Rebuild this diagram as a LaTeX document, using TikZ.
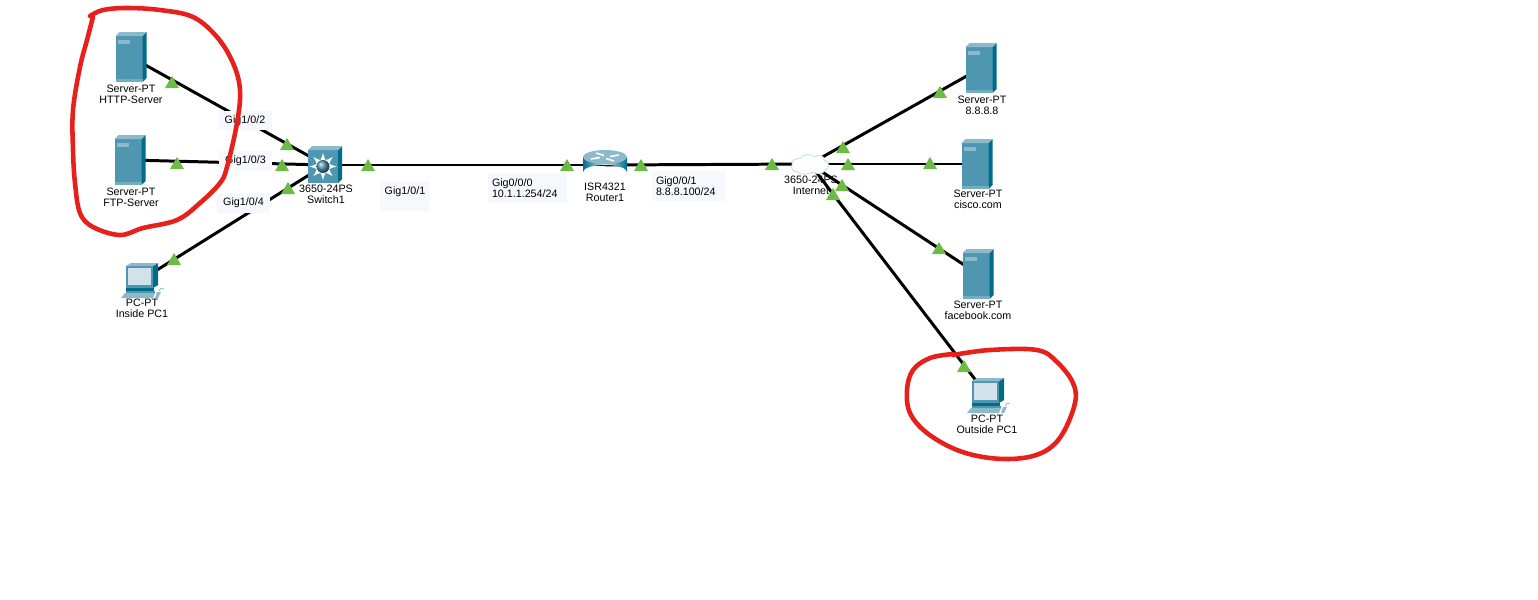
\documentclass[tikz,border=0pt]{standalone}
\usepackage{fontspec}
\setmainfont{Liberation Sans}
\usetikzlibrary{shapes.geometric}
\definecolor{iconfront}{HTML}{4F97B0}
\definecolor{iconside}{HTML}{006C8A}
\definecolor{icontop}{HTML}{8DBACB}
\definecolor{screenfill}{HTML}{D3E2EA}
\definecolor{portfill}{HTML}{F7F8FE}
\definecolor{linkgreen}{HTML}{6CBB45}
\definecolor{markred}{HTML}{E8201C}
\definecolor{cloudedge}{HTML}{C4DEE6}
\tikzset{
  devlabel/.style={align=center, inner sep=0pt, font=\fontsize{6.1}{6.25}\selectfont},
  portlabel/.style={fill=portfill, inner sep=0pt, font=\fontsize{6.1}{6.6}\selectfont},
  link/.style={line width=1.7pt, black},
  linkup/.style={regular polygon, regular polygon sides=3, fill=linkgreen, inner sep=0pt,
    minimum size=0.324cm, yshift=-0.04cm},
  redmark/.style={line width=2.6pt, markred, line cap=round, line join=round},
  servericon/.pic={
    \fill[iconfront] (-15.5,-21) rectangle (11.5,25);
    \fill[iconside] (11.5,-21) -- (15.5,-25) -- (15.5,21) -- (11.5,25) -- cycle;
    \fill[icontop] (-15.5,-21) -- (-11.5,-25) -- (15.5,-25) -- (11.5,-21) -- cycle;
    \fill[icontop] (-13,-17.5) rectangle (-1,-13.5);
    \fill[icontop!60!iconfront] (-15.5,22) rectangle (11.5,25);
  },
  pcicon/.pic={
    % Monitor
    \fill[iconfront] (-15,-14) rectangle (12,8);
    \fill[iconside] (12,-14) -- (17,-17) -- (17,5) -- (12,8) -- cycle;
    \fill[icontop] (-15,-14) -- (-10,-17) -- (17,-17) -- (12,-14) -- cycle;
    \fill[screenfill] (-13,-12) rectangle (10,5);
    % Base and keyboard
    \fill[iconside] (-15,8) rectangle (13,11);
    \fill[iconfront] (-15,11) rectangle (14,13);
    \fill[icontop] (-16,13) -- (14,13) -- (12,18) -- (-20,18) -- cycle;
    \draw[icontop, thin] (18,11) -- (20,8) -- (23,9);
    \fill[icontop] (16,12) -- (20,12) -- (17,18) -- (14,18) -- cycle;
  },
  switchicon/.pic={
    \fill[iconfront] (-17,-15) rectangle (13,18);
    \fill[iconside] (13,-15) -- (17,-19) -- (17,14) -- (13,18) -- cycle;
    \fill[icontop] (-17,-15) -- (-13,-19) -- (17,-19) -- (13,-15) -- cycle;
    \foreach \a in {0,45,...,315}
      \draw[white, line width=0.6pt, -latex] (-2,1.5) ++(\a:7.5) -- ++(\a:6);
    \shade[ball color=iconfront] (-2,1.5) circle (6.5);
  },
  routericon/.pic={
    \shade[left color=iconside, right color=iconside, middle color=white!75!iconfront]
      (-22,-8) -- (-22,7) arc[start angle=180, end angle=360, x radius=22, y radius=7] -- (22,-8) -- cycle;
    \fill[icontop] (0,-8) ellipse[x radius=22, y radius=7];
    \draw[white, line width=0.9pt] (-14,-6) -- (-5,-7.5) (14,-10) -- (5,-8.5)
      (-9,-12) -- (-1,-9.5) (9,-4) -- (1,-6.5);
  },
  cloudicon/.pic={
    \draw[cloudedge, fill=white, line width=0.5pt] (-18,1) .. controls (-19,-4) and (-13,-6) .. (-9,-6)
      .. controls (-6,-11) and (2,-10) .. (4,-7)
      .. controls (9,-10) and (15,-8) .. (14,-4)
      .. controls (20,-3) and (20,5) .. (15,6)
      .. controls (13,11) and (6,10) .. (3,8)
      .. controls (-2,11) and (-10,11) .. (-12,8)
      .. controls (-17,8) and (-19,5) .. (-18,1) -- cycle;
  }
}
\begin{document}
\begin{tikzpicture}[x=0.02cm, y=-0.02cm]
\useasboundingbox (0,0) rectangle (1538,599);
% Devices
\coordinate (http) at (131,57);
\coordinate (ftp) at (130,160);
\coordinate (insidepc) at (141,280);
\coordinate (switch1) at (325,165);
\coordinate (router1) at (605,165);
\coordinate (internet) at (810,164);
\coordinate (dns) at (981,68);
\coordinate (cisco) at (977,164);
\coordinate (facebook) at (978,274);
\coordinate (outsidepc) at (987,395);
% Links
\draw[link] (http) -- (switch1);
\draw[link] (ftp) -- (switch1);
\draw[link] (insidepc) -- (switch1);
\draw[link] (switch1) -- (router1);
\draw[link] (router1) -- (internet);
\draw[link] (internet) -- (dns);
\draw[link] (internet) -- (cisco);
\draw[link] (internet) -- (facebook);
\draw[link] (internet) -- (outsidepc);
% Icons
\foreach \n in {http,ftp,dns,cisco,facebook}
    \pic at (\n) {servericon};
\foreach \n in {insidepc,outsidepc}
    \pic at (\n) {pcicon};
\pic at (switch1) {switchicon};
\pic at (router1) {routericon};
\pic at (internet) {cloudicon};
% Port labels
\node[portlabel, minimum width=1.08cm, minimum height=0.38cm] (port2) at (245,120.5) {Gig1/0/2};
\node[portlabel, minimum width=1.06cm, minimum height=0.38cm] (port3) at (245.5,160.5) {Gig1/0/3};
\node[portlabel, minimum width=1.06cm, minimum height=0.40cm] (port4) at (243.5,203) {Gig1/0/4};
\node[portlabel, minimum width=1.00cm, minimum height=0.60cm, align=center] (port1) at (405,196) {Gig1/0/1\\ ~};
\node[portlabel, text width=1.42cm, minimum height=0.60cm, inner xsep=0.08cm, align=left] (port5) at (527.5,188) {Gig0/0/0\\10.1.1.254/24};
\node[portlabel, text width=1.30cm, minimum height=0.60cm, inner xsep=0.08cm, align=left] (port6) at (688.5,186) {Gig0/0/1\\8.8.8.100/24};
% Device labels
\node[devlabel] (httplabel) at (131,94.5) {Server-PT\\HTTP-Server};
\node[devlabel] (ftplabel) at (131,197.5) {Server-PT\\FTP-Server};
\node[devlabel] (insidelabel) at (142,308.5) {PC-PT\\Inside PC1};
\node[devlabel] (switchlabel) at (326,194.5) {3650-24PS\\Switch1};
\node[devlabel] (routerlabel) at (605,192) {ISR4321\\Router1};
\node[devlabel] (internetlabel) at (811,185.5) {3650-24PS\\Internet};
\node[devlabel] (dnslabel) at (982,105.5) {Server-PT\\8.8.8.8};
\node[devlabel] (ciscolabel) at (978,199.5) {Server-PT\\cisco.com};
\node[devlabel] (facebooklabel) at (978,310.5) {Server-PT\\facebook.com};
\node[devlabel] (outsidelabel) at (987,424.5) {PC-PT\\Outside PC1};
% Link lights
\foreach \n/\x/\y in {a/172/82,b/287/144,c/177/163,d/282/165,e/288/188,f/174/259,g/368/165,h/567/165,
    i/641/165,j/772/164,k/843/147,l/848/164,m/842/185,n/833/194,o/940/92,p/930/163,q/939/248,r/964/366}
    \node[linkup] (up\n) at (\x,\y) {};
% Red marks
\draw[redmark] plot[smooth, tension=0.6] coordinates {(90,16) (103,10) (127,8) (160,10) (193,17) (217,37)
    (233,63) (240,90) (237,123) (227,167) (220,183) (200,203) (177,220) (143,228) (120,235) (93,227)
    (80,213) (75,183) (73,150) (73,110) (80,67) (87,40) (93,17)};
\draw[redmark] plot[smooth, tension=0.6] coordinates {(953,355) (990,350) (1037,350) (1057,362) (1073,383)
    (1075,403) (1063,433) (1047,450) (1023,458) (990,458) (957,450) (927,433) (910,413) (907,390)
    (913,370) (930,358) (953,354)};
\end{tikzpicture}
\end{document}
